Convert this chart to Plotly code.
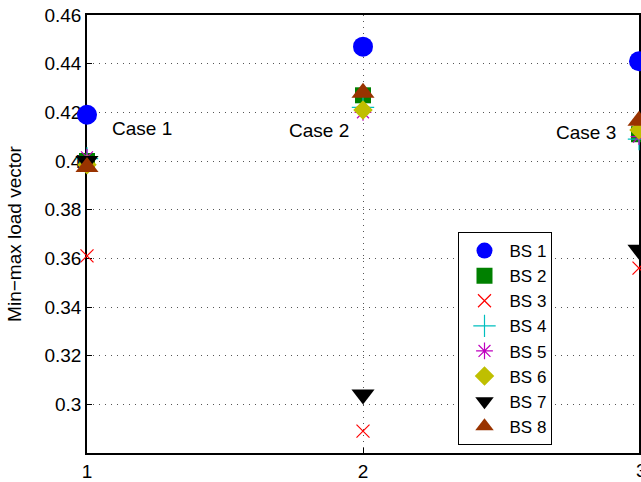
import plotly.graph_objects as go

# Min-max load per base station for the three cases
cases = [1, 2, 3]
case_labels = ["Case 1", "Case 2", "Case 3"]
case_label_x = [1.083, 1.723, 2.691]
case_label_y = [0.4135, 0.4127, 0.4119]

bs1 = [0.419, 0.447, 0.441]
bs2 = [0.400, 0.427, 0.411]
bs3 = [0.361, 0.289, 0.356]
bs4 = [0.401, 0.422, 0.409]
bs5 = [0.4015, 0.420, 0.410]
bs6 = [0.3985, 0.421, 0.4127]
bs7 = [0.400, 0.304, 0.3635]
bs8 = [0.3975, 0.428, 0.4165]

y_tick_vals = [0.30, 0.32, 0.34, 0.36, 0.38, 0.40, 0.42, 0.44, 0.46]
y_tick_text = ["0.3", "0.32", "0.34", "0.36", "0.38", "0.4", "0.42", "0.44", "0.46"]
x_tick_vals = [1, 2, 3]
x_tick_text = ["1", "2", "3"]
x_range = [1, 3]

FONT = "Liberation Sans, Helvetica, Arial, sans-serif"

series = [
    ("BS 1", bs1, "circle", "#0000ff", 20, None),
    ("BS 2", bs2, "square", "#008000", 16, None),
    ("BS 3", bs3, "x-thin-open", "#ff0000", 13, 1.2),
    ("BS 4", bs4, "cross-thin-open", "#00bfbf", 16, 1.2),
    ("BS 5", bs5, "asterisk-open", "#bf00bf", 14, 1.2),
    ("BS 6", bs6, "diamond", "#bfbf00", 15, None),
    ("BS 7", bs7, "triangle-down", "#000000", 20, None),
    ("BS 8", bs8, "triangle-up", "#993300", 20, None),
]

fig = go.Figure()
for name, vals, sym, col, size, lw in series:
    marker = dict(symbol=sym, color=col, size=size)
    if lw is not None:
        marker["line"] = dict(color=col, width=lw)
    else:
        marker["line"] = dict(width=0)
    fig.add_trace(go.Scatter(
        x=cases, y=vals, mode="markers", name=name,
        marker=marker, cliponaxis=False,
    ))

for lab, lx, ly in zip(case_labels, case_label_x, case_label_y):
    fig.add_annotation(x=lx, y=ly, xref="x", yref="y", text=lab,
                       showarrow=False, xanchor="left", yanchor="middle",
                       font=dict(family=FONT, size=19, color="black"))

# the tick label at the far right edge is not drawn by the axis, so add it
last_tick = x_tick_vals[-1]
fig.add_annotation(x=(last_tick - x_range[0]) / (x_range[1] - x_range[0]), y=0,
                   xref="paper", yref="paper", text=x_tick_text[-1],
                   showarrow=False, xanchor="center", yanchor="top",
                   xshift=2, yshift=-5,
                   font=dict(family=FONT, size=19, color="black"))

fig.update_layout(
    width=641, height=482,
    margin=dict(l=87, r=0, t=15, b=29),
    paper_bgcolor="white", plot_bgcolor="white",
    font=dict(family=FONT, size=19, color="black"),
    showlegend=True,
    legend=dict(
        x=0.673, y=0.5046, xanchor="left", yanchor="top",
        bgcolor="white", bordercolor="black", borderwidth=1,
        font=dict(family=FONT, size=17, color="black"),
        itemwidth=40, itemclick=False,
    ),
)

fig.update_xaxes(
    range=x_range, tickvals=x_tick_vals, ticktext=x_tick_text,
    showline=True, linecolor="black", linewidth=1.5, mirror=True,
    ticks="inside", ticklen=5, tickcolor="black",
    showgrid=True, gridcolor="#555555", gridwidth=1, griddash="1px,5px",
    zeroline=False, layer="below traces",
    tickfont=dict(family=FONT, size=19, color="black"),
)
fig.update_yaxes(
    range=[0.28, 0.46], tickvals=y_tick_vals, ticktext=y_tick_text,
    showline=True, linecolor="black", linewidth=1.5, mirror=True,
    ticks="inside", ticklen=5, tickcolor="black",
    showgrid=True, gridcolor="#555555", gridwidth=1, griddash="1px,5px",
    zeroline=False, layer="below traces",
    title=dict(text="Min\u2212max load vector", standoff=18,
               font=dict(family=FONT, size=19, color="black")),
    tickfont=dict(family=FONT, size=19, color="black"),
)

fig.write_html("out.html")
